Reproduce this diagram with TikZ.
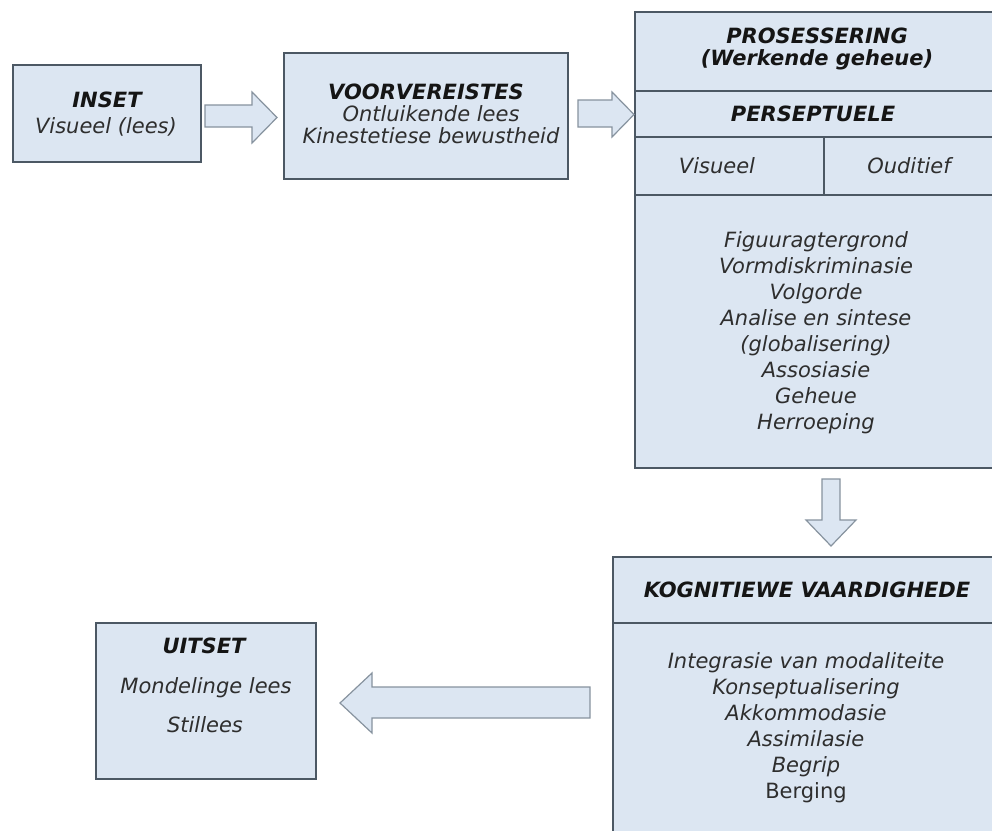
\documentclass[tikz,border=0pt]{standalone}
\usepackage{fontspec}
\setmainfont{DejaVu Sans}
\definecolor{boxfill}{HTML}{DCE6F2}
\definecolor{boxline}{HTML}{4C5864}
\definecolor{arrline}{HTML}{87939F}
\definecolor{txtbody}{HTML}{2E2E2E}
\definecolor{txthead}{HTML}{151515}
\tikzset{
  boxshape/.style={draw=boxline, fill=boxfill, line width=1.8pt, inner sep=0pt, anchor=north west},
  divider/.style={draw=boxline, line width=1.8pt},
  blockarrow/.style={draw=arrline, fill=boxfill, line width=1.2pt, line join=miter},
  lbl/.style={text=txtbody, font=\fontsize{21}{26}\selectfont\itshape, inner sep=0pt, anchor=base},
  lblup/.style={text=txtbody, font=\fontsize{21}{26}\selectfont, inner sep=0pt, anchor=base},
  hdr/.style={text=txthead, font=\fontsize{21}{26}\selectfont\bfseries\itshape, inner sep=0pt, anchor=base},
}
\begin{document}
\begin{tikzpicture}[x=1pt,y=-1pt]
\useasboundingbox[fill=white] (0,0) rectangle (992,830);
\clip (0,0) rectangle (992,830);

% ---------- boxes ----------
\node[boxshape, minimum width=188pt, minimum height=97pt] (inset) at (12,64) {};
\node[boxshape, minimum width=284pt, minimum height=126pt] (voor) at (283,52) {};
\node[boxshape, minimum width=366pt, minimum height=456pt] (pros) at (634,11) {};
\node[boxshape, minimum width=388pt, minimum height=290pt] (kogn) at (612,556) {};
\node[boxshape, minimum width=220pt, minimum height=156pt] (uit) at (95,622) {};

% dividers in PROSESSERING
\coordinate (d1) at (0,91);
\coordinate (d2) at (0,137);
\coordinate (d3) at (0,195);
\coordinate (vtop) at (824,137);
\coordinate (vbot) at (824,195);
\draw[divider] (pros.west |- d1) -- (pros.east |- d1);
\draw[divider] (pros.west |- d2) -- (pros.east |- d2);
\draw[divider] (pros.west |- d3) -- (pros.east |- d3);
\draw[divider] (vtop) -- (vbot);
% divider in KOGNITIEWE
\coordinate (k1) at (0,623);
\draw[divider] (kogn.west |- k1) -- (kogn.east |- k1);

% ---------- block arrows ----------
\draw[blockarrow] (205,105) -- (252,105) -- (252,92) -- (277,117.5) -- (252,143) -- (252,127) -- (205,127) -- cycle;
\draw[blockarrow] (578,100) -- (612,100) -- (612,92) -- (634,114.5) -- (612,137) -- (612,127) -- (578,127) -- cycle;
\draw[blockarrow] (822,479) -- (840,479) -- (840,520) -- (856,520) -- (831,546) -- (806,520) -- (822,520) -- cycle;
\draw[blockarrow] (590,687) -- (372,687) -- (372,673) -- (340,703) -- (372,733) -- (372,718) -- (590,718) -- cycle;

% ---------- texts ----------
\node[hdr] (tInset) at (107,107) {INSET};
\node[lbl] (tInset2) at (106,133) {Visueel (lees)};

\node[hdr] (tVoor) at (426,99) {VOORVEREISTES};
\node[lbl] (tVoor2) at (431,121) {Ontluikende lees};
\node[lbl] (tVoor3) at (431,143) {Kinestetiese bewustheid};

\node[hdr] (tPros) at (817,43) {PROSESSERING};
\node[hdr] (tPros2) at (817,65) {(Werkende geheue)};
\node[hdr] (tPers) at (813,121) {PERSEPTUELE};
\node[lbl] (tVis) at (717,173) {Visueel};
\node[lbl] (tOud) at (909,173) {Ouditief};

\foreach \t [count=\i from 0] in {Figuuragtergrond, Vormdiskriminasie, Volgorde, Analise en sintese, (globalisering), Assosiasie, Geheue, Herroeping}
  \node[lbl] (pl\i) at (816,247+26.1*\i) {\t};

\node[hdr] (tKogn) at (807,597) {KOGNITIEWE VAARDIGHEDE};
\foreach \t [count=\i from 0] in {Integrasie van modaliteite, Konseptualisering, Akkommodasie, Assimilasie, Begrip}
  \node[lbl] (kl\i) at (806,668+26*\i) {\t};
\node[lblup] (kl5) at (806,798) {Berging};

\node[hdr] (tUit) at (204,653) {UITSET};
\node[lbl] (tUit2) at (206,693) {Mondelinge lees};
\node[lbl] (tUit3) at (205,732) {Stillees};
\end{tikzpicture}
\end{document}
